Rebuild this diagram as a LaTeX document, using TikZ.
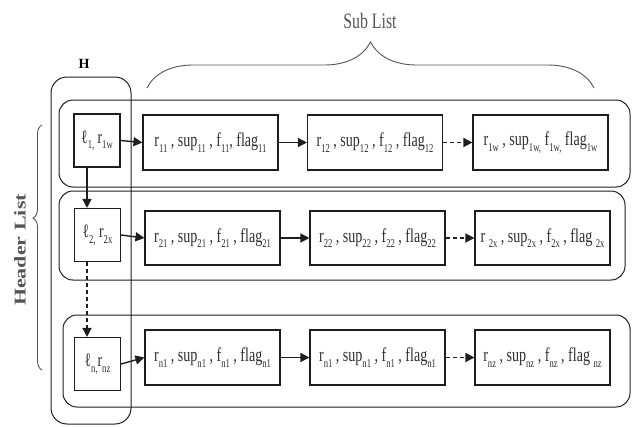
\documentclass[tikz,border=0pt]{standalone}
\usepackage{fontspec}
\usepackage{graphicx}
\setmainfont{Liberation Serif}
\newfontfamily\narrowserif[FakeStretch=0.72]{Liberation Serif}
\usetikzlibrary{arrows.meta,decorations.pathreplacing}
\definecolor{ink}{RGB}{30,30,30}
\definecolor{textink}{RGB}{45,45,45}
\definecolor{labelgray}{RGB}{85,85,85}
% lowered index set in the condensed face
\newcommand\sbs[1]{\raisebox{-5.5pt}{\fontsize{12}{13}\selectfont #1}}
\tikzset{
  rowframe/.style={draw=ink, line width=1pt, rounded corners=14pt, inner sep=0pt},
  hframe/.style={draw=ink, line width=1pt, rounded corners=16pt, inner sep=0pt},
  headbox/.style={draw=ink, line width=1.1pt, inner sep=0pt, minimum width=46pt, minimum height=53pt,
    text=textink, font=\narrowserif\fontsize{19}{21}\selectfont},
  entrybox/.style={draw=ink, line width=1.1pt, inner sep=0pt, minimum width=135pt, minimum height=55pt,
    text=textink, font=\narrowserif\fontsize{19.5}{21}\selectfont},
  link/.style={draw=ink, line width=1.4pt, -{Triangle[length=9pt,width=9pt]}},
  dlink/.style={link, dash pattern=on 4pt off 3pt},
  bracestyle/.style={draw=labelgray, line width=0.9pt, decorate},
}
\begin{document}
\begin{tikzpicture}[x=1pt,y=-1pt]
\useasboundingbox (0,0) rectangle (632,426);

% row containers and the header column
\node[rowframe, minimum width=571pt, minimum height=87pt] (row1) at (344.5,143.5) {};
\node[rowframe, minimum width=566pt, minimum height=89pt] (row2) at (342,235.5) {};
\node[rowframe, minimum width=567pt, minimum height=92pt] (row3) at (346.5,361) {};
\node[hframe, minimum width=80pt, minimum height=347pt] (hcol) at (91,250.5) {};
\node[font=\bfseries\fontsize{14}{16}\selectfont] (hlabel) at (84,63.5) {H};

% header entries
\node[headbox] (h1) at (97,140.5) {ℓ\sbs{1,} r\sbs{1w}};
\node[headbox] (h2) at (97.5,235) {ℓ\sbs{2,} r\sbs{2x}};
\node[headbox] (h3) at (97.5,364) {ℓ\sbs{n,}r\sbs{nz}};

% sub list entries
\node[entrybox] (s11) at (210.5,142.5) {r\sbs{11} , sup\sbs{11} , f\sbs{11}, flag\sbs{11}};
\node[entrybox] (s12) at (375,142.5) {r\sbs{12} , sup\sbs{12} , f\sbs{12} , flag\sbs{12}};
\node[entrybox] (s13) at (540.5,142.5) {r\sbs{1w} , sup\sbs{1w,} f\sbs{1w,} flag\sbs{1w}};

\node[entrybox, minimum height=54pt] (s21) at (212.5,238) {r\sbs{21} , sup\sbs{21} , f\sbs{21} , flag\sbs{21}};
\node[entrybox, minimum height=54pt] (s22) at (377.5,238) {r\sbs{22} , sup\sbs{22} , f\sbs{22} , flag\sbs{22}};
\node[entrybox, minimum height=54pt] (s23) at (542.5,238) {r \sbs{2x} , sup\sbs{2x} , f\sbs{2x} , flag \sbs{2x}};

\node[entrybox] (s31) at (212.5,357.5) {r\sbs{n1} , sup\sbs{n1} , f\sbs{n1} , flag\sbs{n1}};
\node[entrybox] (s32) at (377.5,357.5) {r\sbs{n1} , sup\sbs{n1} , f\sbs{n1} , flag\sbs{n1}};
\node[entrybox] (s33) at (542.5,357.5) {r\sbs{nz} , sup\sbs{nz} , f\sbs{nz} , flag \sbs{nz}};

% links along each row
\draw[link] (h1.east) -- (s11.west);
\draw[link] (s11.east) -- (s12.west);
\draw[dlink] (s12.east) -- (s13.west);
\draw[link] (h2.east) -- (s21.west);
\draw[link] (s21.east) -- (s22.west);
\draw[dlink] (s22.east) -- (s23.west);
\draw[link] (h3.east) -- (s31.west);
\draw[link] (s31.east) -- (s32.west);
\draw[dlink] (s32.east) -- (s33.west);

% links down the header column
\draw[link] ([xshift=-10pt]h1.south) -- ([xshift=-10.5pt]h2.north);
\draw[dlink] ([xshift=-10.5pt]h2.south) -- ([xshift=-10.5pt]h3.north);

% braces and their labels
\coordinate (subA) at (147,88);
\coordinate (subB) at (594,88);
\draw[bracestyle, decoration={brace, amplitude=46pt}] (subA) -- (subB);
\node[text=labelgray, font=\narrowserif\fontsize{22}{24}\selectfont] (sublabel) at (370,21) {Sub List};

\coordinate (hdA) at (42,370);
\coordinate (hdB) at (42,125);
\draw[bracestyle, decoration={brace, amplitude=9pt, aspect=0.62}] (hdA) -- (hdB);
\node[text=labelgray, rotate=90, font=\bfseries\fontsize{22}{24}\selectfont] (hdlabel) at (20,250)
  {\scalebox{1}[0.75]{Header List}};
\end{tikzpicture}
\end{document}
